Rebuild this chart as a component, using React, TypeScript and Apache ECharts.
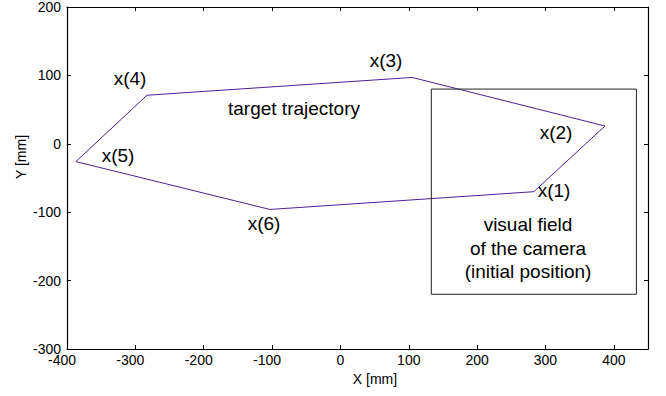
import React, { useEffect, useRef } from "react";
import * as echarts from "echarts";

const trajectoryX = [283, 387, 105, -283, -387, -103, 283];
const trajectoryY = [-70, 26, 97, 71, -26, -96, -70];
const fieldX = [133, 433, 433, 133, 133];
const fieldY = [-220, -220, 80, 80, -220];
const pointLabels = ["x(1)", "x(2)", "x(3)", "x(4)", "x(5)", "x(6)"];
const xTicks = { min: -400, max: 450, interval: 100 };
const yTicks = { min: -300, max: 200, interval: 100 };

const FONT = "Liberation Sans, Arial, Helvetica, sans-serif";

export default function App() {
  const ref = useRef<HTMLDivElement>(null);
  useEffect(() => {
    if (!ref.current) return;
    const chart = echarts.init(ref.current, undefined, { renderer: "svg" });
    const labelPos: [number, number][] = [
      [554, 190],
      [556, 132],
      [386, 60],
      [130, 78],
      [118, 155],
      [264, 223],
    ];
    const baseAxis = {
      axisLine: { show: true, onZero: false, lineStyle: { color: "#000", width: 1.2 } },
      axisTick: { show: true, inside: true, length: 4, lineStyle: { color: "#000" } },
      splitLine: { show: false },
    };
    chart.setOption({
      animation: false,
      backgroundColor: "#fff",
      grid: { left: 67, right: 18, top: 7, bottom: 47, containLabel: false },
      xAxis: [
        {
          type: "value",
          ...xTicks,
          position: "bottom",
          ...baseAxis,
          axisLabel: {
            show: true,
            showMaxLabel: false,
            color: "#000",
            fontSize: 14,
            fontFamily: FONT,
            margin: 4,
            formatter: (v: number) => (v < 0 ? `{neg|${v}}` : `${v}`),
            rich: {
              neg: { padding: [0, 10, 0, 0], fontSize: 14, fontFamily: FONT, color: "#000" },
            },
          },
        },
        {
          type: "value",
          ...xTicks,
          position: "top",
          ...baseAxis,
          axisLabel: { show: false },
        },
      ],
      yAxis: [
        {
          type: "value",
          ...yTicks,
          position: "left",
          ...baseAxis,
          axisLabel: { show: true, color: "#000", fontSize: 14, fontFamily: FONT, margin: 6 },
        },
        {
          type: "value",
          ...yTicks,
          position: "right",
          ...baseAxis,
          axisLabel: { show: false },
        },
      ],
      series: [
        {
          type: "line",
          data: trajectoryX.map((x, i) => [x, trajectoryY[i]]),
          showSymbol: false,
          symbol: "none",
          lineStyle: { color: "#4b2196", width: 1 },
          silent: true,
        },
        {
          type: "line",
          data: fieldX.map((x, i) => [x, fieldY[i]]),
          showSymbol: false,
          symbol: "none",
          lineStyle: { color: "#222", width: 1 },
          silent: true,
        },
      ],
      graphic: [
        ...pointLabels.map((t, i) => ({
          type: "text",
          x: labelPos[i][0],
          y: labelPos[i][1],
          style: { text: t, fontSize: 19, fontFamily: FONT, fill: "#000", align: "center", verticalAlign: "middle" },
        })),
        {
          type: "text",
          x: 294,
          y: 108,
          style: { text: "target trajectory", fontSize: 19, fontFamily: FONT, fill: "#000", align: "center", verticalAlign: "middle" },
        },
        {
          type: "text",
          x: 528,
          y: 248,
          style: {
            text: "visual field\nof the camera\n(initial position)",
            fontSize: 19,
            lineHeight: 23.5,
            fontFamily: FONT,
            fill: "#000",
            align: "center",
            verticalAlign: "middle",
          },
        },
        {
          type: "text",
          x: 375,
          y: 379,
          style: { text: "X [mm]", fontSize: 14, fontFamily: FONT, fill: "#000", align: "center", verticalAlign: "middle" },
        },
        {
          type: "text",
          x: 21,
          y: 157,
          rotation: Math.PI / 2,
          style: { text: "Y [mm]", fontSize: 14, fontFamily: FONT, fill: "#000", align: "center", verticalAlign: "middle" },
        },
      ],
    });
    return () => chart.dispose();
  }, []);
  return <div ref={ref} style={{ width: 666, height: 396, position: "absolute", left: 0, top: 0 }} />;
}
